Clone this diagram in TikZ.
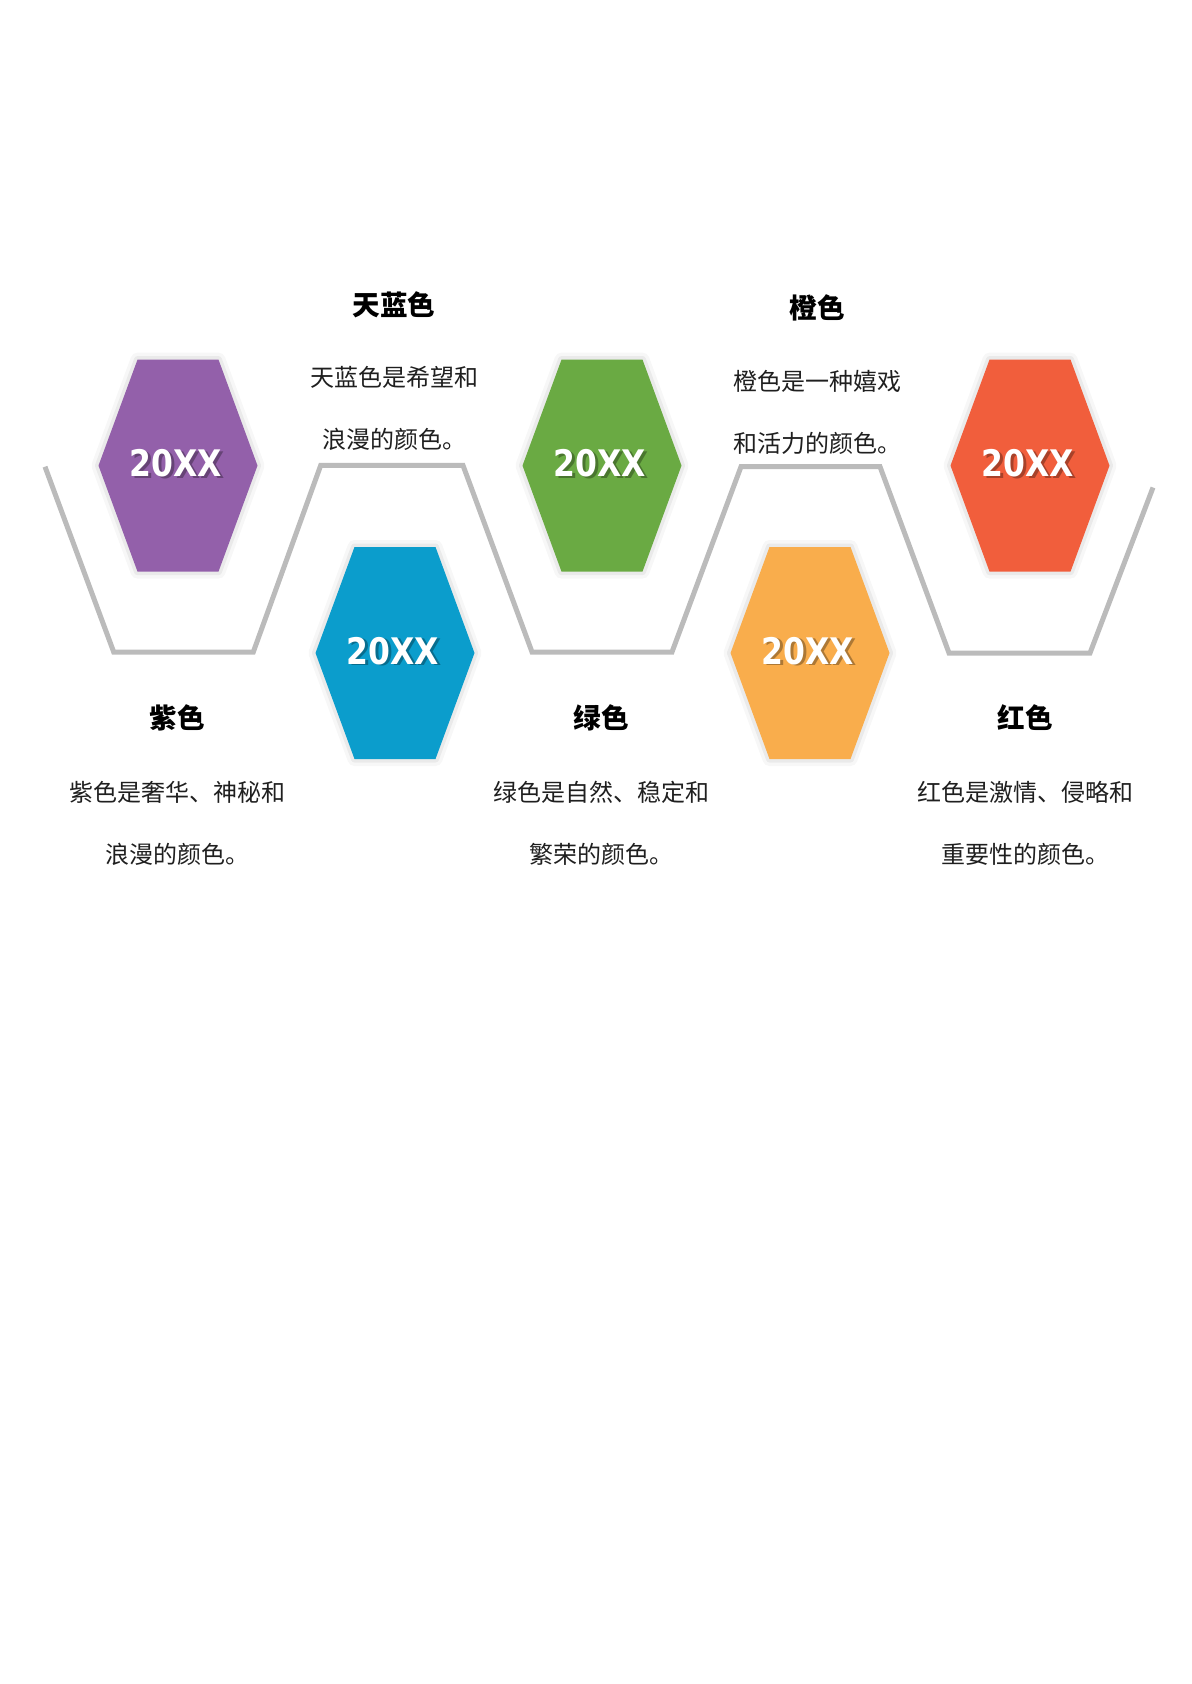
\documentclass[tikz,border=0pt]{standalone}
\usepackage{fontspec}
\usepackage{tikz}
\newfontfamily\cjk{Noto Sans CJK SC}
\newfontfamily\yearfont[FakeStretch=0.86]{DejaVu Sans}
\definecolor{purp}{HTML}{9360AA}
\definecolor{sky}{HTML}{0B9DCC}
\definecolor{grn}{HTML}{6AAA43}
\definecolor{org}{HTML}{F9AD4C}
\definecolor{rd}{HTML}{F15E3C}
\definecolor{pathgray}{HTML}{BBBBBB}
\tikzset{
	yeartext/.style={font=\yearfont\bfseries\fontsize{18.3}{22}\selectfont, text=white},
	titletext/.style={font=\cjk\bfseries\fontsize{13.8}{16}\selectfont, text=black},
	bodytext/.style={font=\cjk\fontsize{12}{31}\selectfont, align=center, text=black!88},
}

\begin{document}
\begin{tikzpicture}[x=0.5pt,y=-0.5pt]
	\useasboundingbox (0,0) rectangle (1191,1684);

	\draw [line width=2.5pt, pathgray](45,466.7)--(113.7,652)--(253.3,652)--(320.7,465.4)--(463,465.4)--(532,652)--(672,652)--(741,466.7)--(880,466.7)--(949,653)--(1090,653)--(1153,487.5);

	\foreach \cx/\cy/\col/\n in {178/465.6/purp/purple, 395/653/sky/skyblue, 602/465.6/grn/green, 810/653/org/orange, 1030/465.6/rd/red}{
		\draw [black, opacity=0.03, line width=7pt, line join=round](\cx-79.5,\cy)--(\cx-40.5,\cy-106)--(\cx+40.5,\cy-106)--(\cx+79.5,\cy)--(\cx+40.5,\cy+106)--(\cx-40.5,\cy+106)--cycle;
		\draw [black, opacity=0.05, line width=3.5pt, line join=round](\cx-79.5,\cy)--(\cx-40.5,\cy-106)--(\cx+40.5,\cy-106)--(\cx+79.5,\cy)--(\cx+40.5,\cy+106)--(\cx-40.5,\cy+106)--cycle;
		\fill [\col](\cx-79.5,\cy)--(\cx-40.5,\cy-106)--(\cx+40.5,\cy-106)--(\cx+79.5,\cy)--(\cx+40.5,\cy+106)--(\cx-40.5,\cy+106)--cycle;
		\node at (\cx+0.5,\cy-0.5)[yeartext, text=black, opacity=0.3]{20XX};
		\node (\n) at (\cx-2,\cy-2)[yeartext]{20XX};
	}

	\node (skytitle) at (394,305)[titletext]{天蓝色};
	\node (skybody) at (394,408.5)[bodytext]{天蓝色是希望和\\浪漫的颜色。};
	\node (orgtitle) at (817,308)[titletext]{橙色};
	\node (orgbody) at (817,412.5)[bodytext]{橙色是一种嬉戏\\和活力的颜色。};

	\node (purtitle) at (177,718)[titletext]{紫色};
	\node (purbody) at (177,823)[bodytext]{紫色是奢华、神秘和\\浪漫的颜色。};
	\node (grntitle) at (601,718)[titletext]{绿色};
	\node (grnbody) at (601,823)[bodytext]{绿色是自然、稳定和\\繁荣的颜色。};
	\node (redtitle) at (1025,718)[titletext]{红色};
	\node (redbody) at (1025,823)[bodytext]{红色是激情、侵略和\\重要性的颜色。};
\end{tikzpicture}
\end{document}
